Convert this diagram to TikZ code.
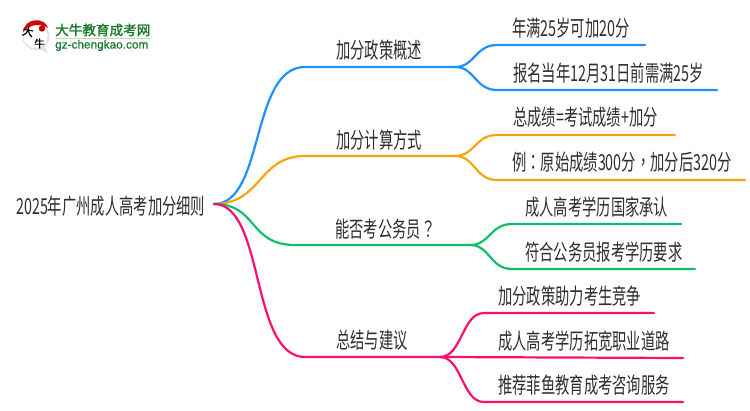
\documentclass[tikz,border=0pt]{standalone}
\usepackage{fontspec}
\setmainfont{Noto Sans CJK SC}
\newfontfamily\mapfont[FakeStretch=0.65]{Noto Sans CJK SC}
\newfontfamily\punctfont[FakeStretch=0.65]{Noto Sans CJK TC}
\newfontfamily\logofont[FakeBold=1.5]{Noto Sans CJK SC}
\newfontfamily\logolat[FakeBold=0.6]{Liberation Sans}
\newcommand{\pc}[1]{{\punctfont #1}}
\definecolor{cblue}{HTML}{1E90FF}
\definecolor{corange}{HTML}{F5A50F}
\definecolor{cgreen}{HTML}{10BE6C}
\definecolor{cpink}{HTML}{FA0F6E}
\definecolor{ctext}{HTML}{2E2E2E}
\definecolor{clogo}{HTML}{1C7A2E}
\tikzset{
  branch/.style={line width=2.2pt,line cap=round},
  lab/.style={font=\mapfont\fontsize{22}{23}\selectfont,text=ctext,inner sep=0pt,anchor=west},
}
\begin{document}
\begin{tikzpicture}[x=1pt,y=-1pt]
\useasboundingbox (0,0) rectangle (750,410);
% logo
\fill[black!12] (36,36.5) circle (13.5);
\fill[black!12] (37,48) -- (48,53) -- (43,44) -- cycle;
\fill[white] (35.5,36) circle (12.3);
\fill[red!85!black] (23,32) .. controls (25,17) and (45,17) .. (48,28) .. controls (40,23) and (30,24) .. (23,32) -- cycle;
\node[inner sep=0pt,rotate=-10] (logoa) at (28,31.5) {\logofont\fontsize{11}{11}\selectfont 大};
\node[inner sep=0pt] (logob) at (39.5,43.5) {\logofont\fontsize{10.5}{11}\selectfont 牛};
\fill[red!75!black] (42,28.5) circle (3.2);
\node[inner sep=0pt,anchor=west,text=clogo] (logot) at (55,30) {\logofont\fontsize{13.6}{14}\selectfont 大牛教育成考网};
\node[inner sep=0pt,anchor=west,text=clogo] (logou) at (55,45.5) {\logolat\fontsize{11.8}{12}\selectfont gz-chengkao.com};
\draw[green!40!black!25,line width=.8pt] (55,38.7) -- (150,38.7);
% root
\node[lab] (root) at (16,206.5) {2025年广州成人高考加分细则};
\coordinate (r) at (214,204);
% coordinates
\coordinate (b1) at (305,67);\coordinate (b2) at (455,67);
\coordinate (o1) at (305,156);\coordinate (o2) at (455,156);
\coordinate (g1) at (295,245);\coordinate (g2) at (470,245);
\coordinate (p1) at (305,357);\coordinate (p2) at (440,357);
% level 1
\draw[branch,cblue] (r) .. controls (265,204) and (250,67) .. (b1) -- (b2);
\draw[branch,corange] (r) .. controls (262,204) and (258,156) .. (o1) -- (o2);
\draw[branch,cgreen] (r) .. controls (258,204) and (248,245) .. (g1) -- (g2);
\draw[branch,cpink] (r) .. controls (265,204) and (250,357) .. (p1) -- (p2);
% level 2
\coordinate (la) at (645,45);\coordinate (lb) at (717,90);
\coordinate (lc) at (675,135);\coordinate (ld) at (745,180);
\coordinate (le) at (681,224);\coordinate (lf) at (695,269);
\coordinate (lg) at (654,313);\coordinate (lh) at (683,358);\coordinate (li) at (683,402);
\draw[branch,cblue] (b2) .. controls (475,67) and (475,45) .. (497,45) -- (la);
\draw[branch,cblue] (b2) .. controls (475,67) and (475,90) .. (497,90) -- (lb);
\draw[branch,corange] (o2) .. controls (475,156) and (475,135) .. (497,135) -- (lc);
\draw[branch,corange] (o2) .. controls (475,156) and (475,180) .. (497,180) -- (ld);
\draw[branch,cgreen] (g2) .. controls (490,245) and (490,224) .. (512,224) -- (le);
\draw[branch,cgreen] (g2) .. controls (490,245) and (490,269) .. (512,269) -- (lf);
\draw[branch,cpink] (p2) .. controls (462,357) and (462,313) .. (484,313) -- (lg);
\draw[branch,cpink] (p2) -- (lh);
\draw[branch,cpink] (p2) .. controls (462,357) and (462,402) .. (484,402) -- (li);
% labels
\node[lab] (t1) at (336,50.5) {加分政策概述};
\node[lab] (t2) at (336,140.5) {加分计算方式};
\node[lab] (t3) at (335,229.5) {能否考公务员\pc{？}};
\node[lab] (t4) at (336,340.5) {总结与建议};
\node[lab] (a) at (512,28.5) {年满25岁可加20分};
\node[lab] (b) at (513,73.5) {报名当年12月31日前需满25岁};
\node[lab] (c) at (513,117.5) {总成绩=考试成绩+加分};
\node[lab] (d) at (512,162.5) {例\pc{：}原始成绩300分\pc{，}加分后320分};
\node[lab] (e) at (525,207.5) {成人高考学历国家承认};
\node[lab] (f) at (525,252.5) {符合公务员报考学历要求};
\node[lab] (g) at (498,296.5) {加分政策助力考生竞争};
\node[lab] (h) at (498,341.5) {成人高考学历拓宽职业道路};
\node[lab] (i) at (498,385.5) {推荐菲鱼教育成考咨询服务};
\end{tikzpicture}
\end{document}
